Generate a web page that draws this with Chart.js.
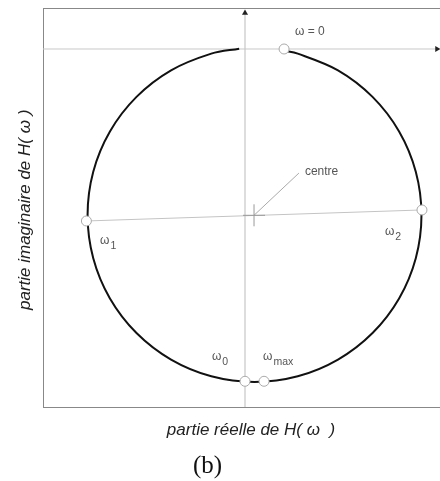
<!DOCTYPE html>
<html>
<head>
<meta charset="utf-8">
<script src="https://cdn.jsdelivr.net/npm/chart.js@4"></script>
<style>
  body { margin: 0; background: #fff; }
  #wrap { position: relative; width: 440px; height: 481px; }
  #cap { position: absolute; left: 0; top: 450px; width: 415px; text-align: center;
         font: 25px "Liberation Serif", serif; line-height: 30px; color: #111; }
</style>
</head>
<body>
<div id="wrap">
  <canvas id="chart" width="440" height="481"></canvas>
  <div id="cap">(b)</div>
</div>
<script>
// locus of H(w) (real / imaginary parts)
const circleRe = [0.234, 0.316, 0.557, 0.764, 0.923, 1.023, 1.057, 1.023, 0.923, 0.764, 0.557, 0.316, 0.057,
  -0.202, -0.443, -0.650, -0.809, -0.909, -0.943, -0.909, -0.809, -0.650, -0.443, -0.202, -0.035];
const circleIm = [-0.010, -0.028, -0.128, -0.287, -0.494, -0.735, -0.994, -1.253, -1.494, -1.701, -1.860, -1.960, -1.994,
  -1.960, -1.860, -1.701, -1.494, -1.253, -0.994, -0.735, -0.494, -0.287, -0.128, -0.028, 0.002];

// marked frequencies
const markNames = ["ω = 0", "ω2", "ω0", "ωmax", "ω1"];
const markRe = [0.234, 1.060, 0.000, 0.114, -0.950];
const markIm = [0.000, -0.964, -1.990, -1.990, -1.030];

// centre of the circle and the pointer to its label
const centreRe = 0.054, centreIm = -0.996;
const pointerRe = [0.054, 0.323];
const pointerIm = [-0.996, -0.743];

// axes limits
const xMin = -1.21, xMax = 1.168;
const yMin = -2.144, yMax = 0.2455;
const axisEndRe = 1.15, axisEndIm = 0.215;

// annotation texts: [main, subscript, re, im]
const notes = [
  ["ω = 0", "", 0.299, 0.102],
  ["centre", "", 0.359, -0.737],
  ["ω", "1", -0.868, -1.150],
  ["ω", "2", 0.838, -1.096],
  ["ω", "0", -0.198, -1.844],
  ["ω", "max", 0.108, -1.844]
];

const pts = (xs, ys) => xs.map((x, i) => ({ x: x, y: ys[i] }));

const notePlugin = {
  id: "notes",
  afterDatasetsDraw(chart) {
    const ctx = chart.ctx, sx = chart.scales.x, sy = chart.scales.y;
    ctx.save();
    ctx.fillStyle = "#555";
    ctx.textBaseline = "middle";
    ctx.textAlign = "left";
    notes.forEach(n => {
      const px = sx.getPixelForValue(n[2]);
      const py = sy.getPixelForValue(n[3]);
      ctx.font = "12px 'Liberation Sans', sans-serif";
      ctx.fillText(n[0], px, py);
      if (n[1]) {
        const w = ctx.measureText(n[0]).width;
        ctx.font = "10.5px 'Liberation Sans', sans-serif";
        ctx.fillText(n[1], px + w + 1, py + 5);
      }
    });
    ctx.restore();
  }
};

const noPad = s => { s.paddingLeft = 0; s.paddingRight = 0; };

new Chart(document.getElementById("chart"), {
  type: "scatter",
  data: {
    datasets: [
      {
        label: "marks",
        data: pts(markRe, markIm),
        pointRadius: 5,
        pointBackgroundColor: "#fff",
        pointBorderColor: "#aaa",
        pointBorderWidth: 1
      },
      {
        label: "arrows",
        data: [{ x: axisEndRe, y: 0 }, { x: 0, y: axisEndIm }],
        pointStyle: "triangle",
        pointRotation: [90, 0],
        pointRadius: 3.5,
        pointBackgroundColor: "#222",
        pointBorderColor: "#222",
        pointBorderWidth: 0
      },
      {
        label: "locus",
        data: pts(circleRe, circleIm),
        showLine: true,
        borderColor: "#111",
        borderWidth: 2,
        tension: 0.34,
        pointRadius: 0
      },
      {
        label: "centre",
        data: [{ x: centreRe, y: centreIm }],
        pointStyle: "cross",
        pointRadius: 11,
        pointBorderColor: "#999",
        pointBorderWidth: 1
      },
      {
        label: "pointer",
        data: pts(pointerRe, pointerIm),
        showLine: true,
        borderColor: "#aaa",
        borderWidth: 1,
        pointRadius: 0
      },
      {
        label: "diameter",
        data: [{ x: markRe[4], y: markIm[4] }, { x: markRe[1], y: markIm[1] }],
        showLine: true,
        borderColor: "#c4c4c4",
        borderWidth: 1,
        pointRadius: 0
      },
      {
        label: "real axis",
        data: [{ x: xMin, y: 0 }, { x: axisEndRe, y: 0 }],
        showLine: true,
        borderColor: "#c8c8c8",
        borderWidth: 1,
        pointRadius: 0
      },
      {
        label: "imag axis",
        data: [{ x: 0, y: yMin }, { x: 0, y: axisEndIm }],
        showLine: true,
        borderColor: "#bbb",
        borderWidth: 1,
        pointRadius: 0
      }
    ]
  },
  options: {
    responsive: false,
    animation: false,
    layout: { padding: 0, autoPadding: false },
    plugins: { legend: { display: false }, tooltip: { enabled: false } },
    scales: {
      x: {
        type: "linear",
        position: "bottom",
        min: xMin, max: xMax,
        grid: { display: false },
        ticks: { display: false },
        border: { display: true, color: "#888", width: 1 },
        title: {
          display: true,
          text: "    partie réelle de H( ω  )",
          color: "#222",
          font: { family: "'Liberation Sans', sans-serif", size: 17, style: "italic" },
          padding: { top: 0, bottom: 41 }
        },
        afterFit: s => { s.height = 74; noPad(s); }
      },
      xTop: {
        type: "linear",
        position: "top",
        min: xMin, max: xMax,
        grid: { display: false },
        ticks: { display: false },
        border: { display: true, color: "#888", width: 1 },
        afterFit: s => { s.height = 8; noPad(s); }
      },
      y: {
        type: "linear",
        position: "left",
        min: yMin, max: yMax,
        grid: { display: false },
        ticks: { display: false },
        border: { display: true, color: "#888", width: 1 },
        title: {
          display: true,
          text: "partie imaginaire de H( ω ) ",
          color: "#222",
          font: { family: "'Liberation Sans', sans-serif", size: 17, style: "italic" },
          padding: { top: 15, bottom: 0 }
        },
        afterFit: s => { s.width = 43; s.paddingTop = 0; s.paddingBottom = 0; }
      }
    }
  },
  plugins: [notePlugin]
});
</script>
</body>
</html>
